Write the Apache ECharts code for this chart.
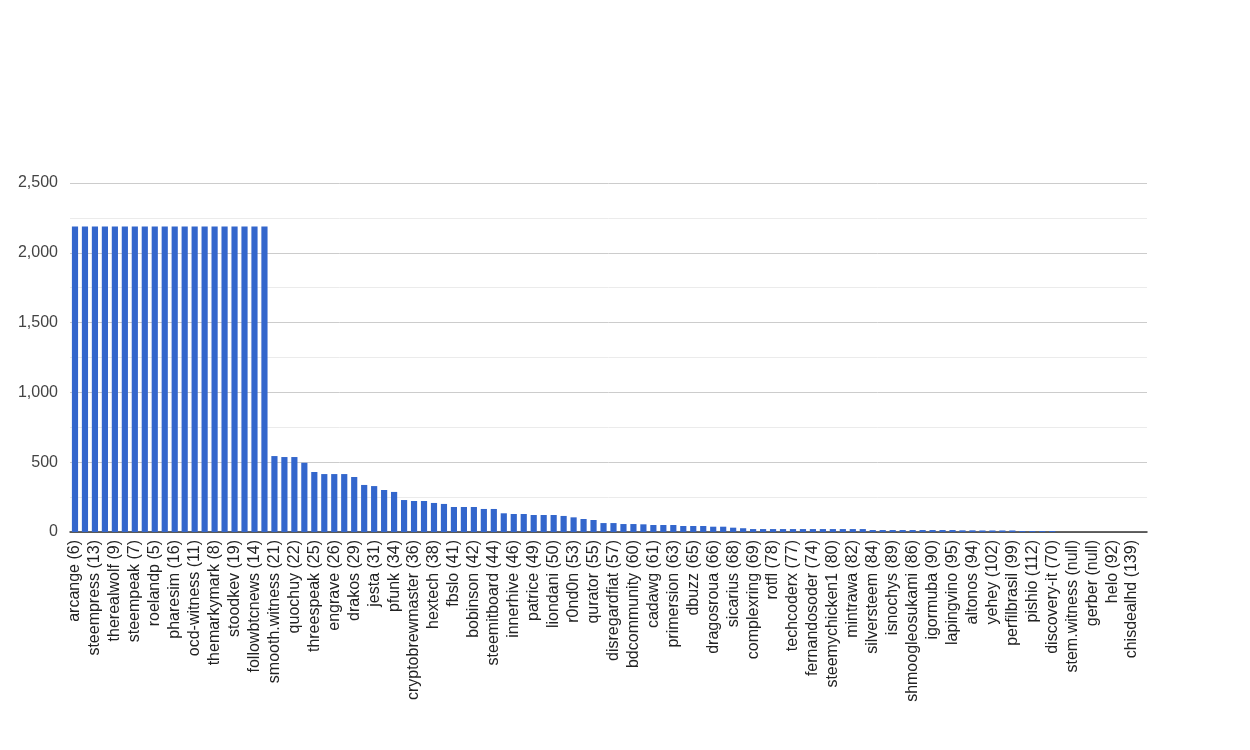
<!DOCTYPE html>
<html>
<head>
<meta charset="utf-8">
<script src="https://cdn.jsdelivr.net/npm/echarts@6/dist/echarts.min.js"></script>
<style>html,body{margin:0;padding:0;background:#fff}#c{width:1250px;height:750px}</style>
</head>
<body>
<div id="c"></div>
<script>
// Categories: every other label is drawn in the reference; odd-index names are unlabeled placeholders.
const categories = [
  "arcange (6)", "witness-a", "steempress (13)", "witness-b", "therealwolf (9)", "witness-c",
  "steempeak (7)", "witness-d", "roelandp (5)", "witness-e", "pharesim (16)", "witness-f",
  "ocd-witness (11)", "witness-g", "themarkymark (8)", "witness-h", "stoodkev (19)", "witness-i",
  "followbtcnews (14)", "witness-j", "smooth.witness (21)", "witness-k", "quochuy (22)", "witness-l",
  "threespeak (25)", "witness-m", "engrave (26)", "witness-n", "drakos (29)", "witness-o",
  "jesta (31)", "witness-p", "pfunk (34)", "witness-q", "cryptobrewmaster (36)", "witness-r",
  "hextech (38)", "witness-s", "fbslo (41)", "witness-t", "bobinson (42)", "witness-u",
  "steemitboard (44)", "witness-v", "innerhive (46)", "witness-w", "patrice (49)", "witness-x",
  "liondani (50)", "witness-y", "r0nd0n (53)", "witness-z", "qurator (55)", "witness-aa",
  "disregardfiat (57)", "witness-ab", "bdcommunity (60)", "witness-ac", "cadawg (61)", "witness-ad",
  "primersion (63)", "witness-ae", "dbuzz (65)", "witness-af", "dragosroua (66)", "witness-ag",
  "sicarius (68)", "witness-ah", "complexring (69)", "witness-ai", "rotfl (78)", "witness-aj",
  "techcoderx (77)", "witness-ak", "fernandosoder (74)", "witness-al", "steemychicken1 (80)", "witness-am",
  "mintrawa (82)", "witness-an", "silversteem (84)", "witness-ao", "isnochys (89)", "witness-ap",
  "shmoogleosukami (86)", "witness-aq", "igormuba (90)", "witness-ar", "lapingvino (95)", "witness-as",
  "altonos (94)", "witness-at", "yehey (102)", "witness-au", "perfilbrasil (99)", "witness-av",
  "pishio (112)", "witness-aw", "discovery-it (70)", "witness-ax", "stem.witness (null)", "witness-ay",
  "gerber (null)", "witness-az", "helo (92)", "witness-ba", "chisdealhd (139)", "witness-bb"
];

const values = [
  2188, 2188, 2188, 2188, 2188, 2188, 2188, 2188, 2188, 2188,
  2188, 2188, 2188, 2188, 2188, 2188, 2188, 2188, 2188, 2188,
  544, 537, 537, 496, 430, 415, 415, 415, 394, 337,
  329, 301, 287, 229, 222, 222, 208, 201, 179, 179,
  179, 165, 165, 134, 129, 129, 122, 122, 122, 115,
  105, 93, 86, 64, 64, 57, 57, 55, 50, 50,
  50, 43, 43, 43, 38, 38, 31, 27, 21, 21,
  21, 21, 21, 21, 21, 21, 21, 21, 21, 21,
  14, 14, 14, 14, 14, 14, 14, 14, 14, 12,
  12, 11, 11, 11, 11, 7, 7, 7, 7, null,
  null, null, null, null, null, null, null, null
];

const yTicks = { min: 0, max: 2500, interval: 500 };

const chart = echarts.init(document.getElementById('c'), null, { renderer: 'canvas' });
chart.setOption({
  animation: false,
  backgroundColor: '#ffffff',
  grid: { left: 70, right: 103, top: 183, bottom: 218, containLabel: false },
  xAxis: {
    type: 'category',
    data: categories,
    axisLine: { show: true, lineStyle: { color: '#333333', width: 1.5 } },
    axisTick: { show: false },
    axisLabel: {
      interval: 1,
      rotate: 90,
      color: '#222222',
      fontFamily: 'Liberation Sans, Arial, sans-serif',
      fontSize: 16,
      margin: 8
    },
    splitLine: { show: false }
  },
  yAxis: {
    type: 'value',
    min: yTicks.min,
    max: yTicks.max,
    interval: yTicks.interval,
    axisLine: { show: false },
    axisTick: { show: false },
    axisLabel: {
      color: '#444444',
      fontFamily: 'Liberation Sans, Arial, sans-serif',
      fontSize: 16,
      margin: 12,
      formatter: v => v.toLocaleString('en-US')
    },
    splitLine: { show: true, lineStyle: { color: '#cccccc', width: 1 } },
    minorTick: { show: false, splitNumber: 2 },
    minorSplitLine: { show: true, lineStyle: { color: '#ebebeb', width: 1 } }
  },
  series: [{
    type: 'bar',
    data: values,
    barCategoryGap: '38%',
    itemStyle: { color: '#3366cc' }
  }]
});
</script>
</body>
</html>
